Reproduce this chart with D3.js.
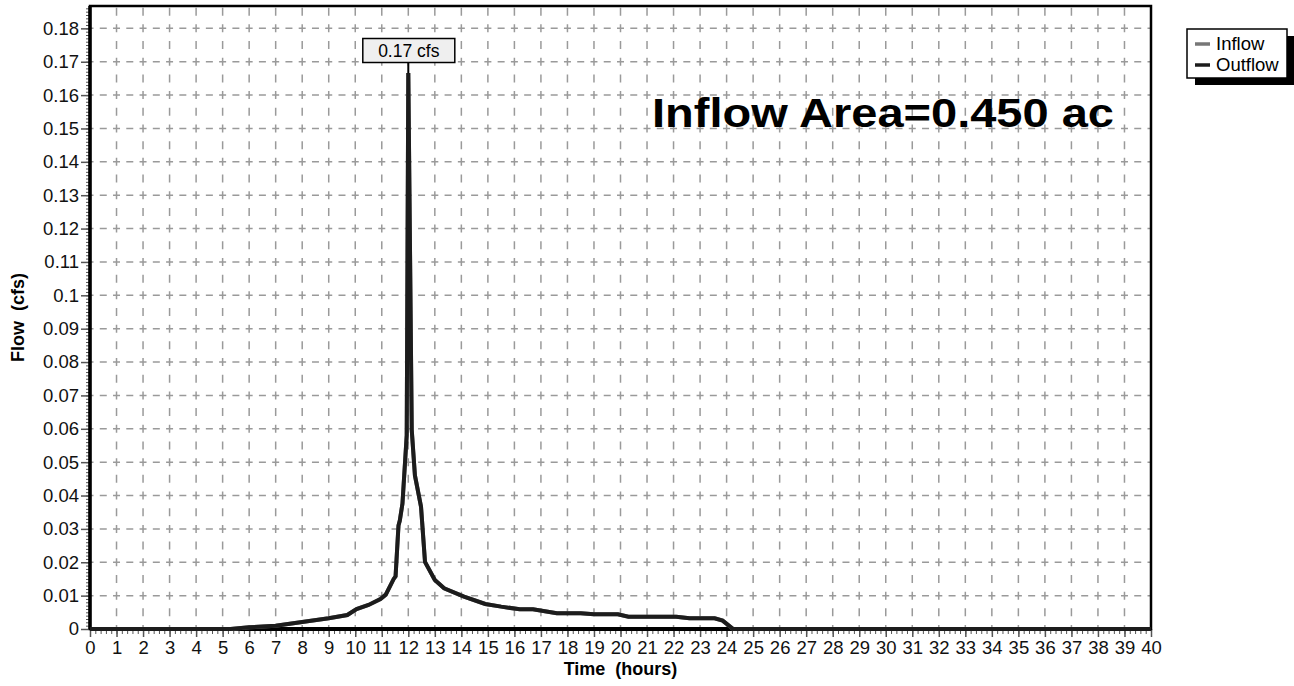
<!DOCTYPE html>
<html>
<head>
<meta charset="utf-8">
<script src="https://cdn.jsdelivr.net/npm/d3@7"></script>
<style>
body { margin: 0; background: #fff; }
svg { display: block; font-family: "Liberation Sans", Arial, Helvetica, sans-serif; }
</style>
</head>
<body>
<div id="chart"></div>
<script>
// hydrograph (hours, cfs)
var hours = [0, 5.0, 5.3, 6.0, 7.0, 8.0, 9.0, 9.7, 10.05, 10.5, 10.95, 11.15, 11.45, 11.52, 11.63, 11.68, 11.78, 11.94, 12.0, 12.13, 12.25, 12.48, 12.63, 13.0, 13.35, 14.1, 14.9, 15.5, 16.2, 16.7, 17.6, 18.5, 19.0, 19.9, 20.3, 22.1, 22.6, 23.55, 23.85, 24.25, 40];
var outflowCfs = [0, 0, 0, 0.0005, 0.001, 0.0021, 0.0032, 0.0042, 0.006, 0.0072, 0.009, 0.0103, 0.0150, 0.0158, 0.031, 0.0325, 0.0376, 0.058, 0.1666, 0.0596, 0.046, 0.0366, 0.0201, 0.0147, 0.0122, 0.0097, 0.0075, 0.0067, 0.0059, 0.0059, 0.0047, 0.0047, 0.0044, 0.0044, 0.0037, 0.0037, 0.0032, 0.0032, 0.0025, 0, 0];
// inflow plots right under the outflow line (same values)
var inflowCfs = outflowCfs;

var yTicks = [0, 0.01, 0.02, 0.03, 0.04, 0.05, 0.06, 0.07, 0.08, 0.09, 0.1, 0.11, 0.12, 0.13, 0.14, 0.15, 0.16, 0.17, 0.18];
var yTickLabels = ["0", "0.01", "0.02", "0.03", "0.04", "0.05", "0.06", "0.07", "0.08", "0.09", "0.1", "0.11", "0.12", "0.13", "0.14", "0.15", "0.16", "0.17", "0.18"];
var xTicks = d3.range(0, 41);

var peakHour = 12.0;
var peakLabel = "0.17 cfs";
var areaLabel = "Inflow Area=0.450 ac";
var legendNames = ["Inflow", "Outflow"];

var svgWidth = 1294, svgHeight = 686;
var margin = { top: 6, right: 143, bottom: 57, left: 90 };
var width = svgWidth - margin.left - margin.right;
var height = svgHeight - margin.top - margin.bottom;

var svg = d3.select("#chart").append("svg")
    .attr("width", svgWidth)
    .attr("height", svgHeight);

var g = svg.append("g")
    .attr("transform", `translate(${margin.left}, ${margin.top})`);

var x = d3.scaleLinear().domain([0, 40]).range([0, width]);
var y = d3.scaleLinear().domain([0, 0.1867]).range([height, 0]);

// dashed grid
var hx = (x(1) - x(0)) / 2;
var hy = (y(0) - y(0.01)) / 2;
g.append("g").selectAll("line")
    .data(yTicks.slice(1))
    .enter().append("line")
    .attr("x1", 0).attr("x2", width)
    .attr("y1", d => y(d)).attr("y2", d => y(d))
    .attr("stroke", "#9a9a9a").attr("stroke-width", 1.5)
    .attr("stroke-dasharray", `7 ${hx - 7}`)
    .attr("stroke-dashoffset", 3.5);
g.append("g").selectAll("line")
    .data(xTicks.slice(1, -1))
    .enter().append("line")
    .attr("x1", d => x(d)).attr("x2", d => x(d))
    .attr("y1", height).attr("y2", 0)
    .attr("stroke", "#9a9a9a").attr("stroke-width", 1.5)
    .attr("stroke-dasharray", `8 ${hy - 8}`)
    .attr("stroke-dashoffset", 4);

// minor ticks
g.append("g")
    .call(d3.axisLeft(y).tickValues(d3.range(0, 0.1865, 0.001)).tickSize(4).tickFormat(""))
    .call(a => a.select(".domain").remove())
    .call(a => a.selectAll("line").attr("stroke", "#555"));
g.append("g")
    .attr("transform", `translate(0, ${height})`)
    .call(d3.axisBottom(x).tickValues(d3.range(0, 40.01, 0.2)).tickSize(5).tickFormat(""))
    .call(a => a.select(".domain").remove())
    .call(a => a.selectAll("line").attr("stroke", "#555"));

// major axes
var yAxis = g.append("g")
    .call(d3.axisLeft(y).tickValues(yTicks).tickSize(9).tickPadding(2)
        .tickFormat((d, i) => yTickLabels[i]));
yAxis.select(".domain").remove();
yAxis.selectAll("line").attr("stroke", "#555").attr("stroke-width", 1.5);
yAxis.selectAll("text").attr("font-size", 18.5).attr("fill", "#111")
    .attr("font-family", "'Liberation Sans', Arial, sans-serif");

var xAxis = g.append("g")
    .attr("transform", `translate(0, ${height})`)
    .call(d3.axisBottom(x).tickValues(xTicks).tickSize(8).tickPadding(4));
xAxis.select(".domain").remove();
xAxis.selectAll("line").attr("stroke", "#555").attr("stroke-width", 1.5);
xAxis.selectAll("text").attr("font-size", 18.5).attr("fill", "#111")
    .attr("font-family", "'Liberation Sans', Arial, sans-serif");

// frame
g.append("rect")
    .attr("x", 0).attr("y", 0).attr("width", width).attr("height", height)
    .attr("fill", "none").attr("stroke", "#000").attr("stroke-width", 2.5);
g.append("line").attr("x1", 0).attr("x2", 0).attr("y1", 0).attr("y2", height)
    .attr("stroke", "#000").attr("stroke-width", 3.5);
g.append("line").attr("x1", 0).attr("x2", width).attr("y1", height).attr("y2", height)
    .attr("stroke", "#000").attr("stroke-width", 4);

// hydrograph lines
var line = d3.line().x(d => x(d[0])).y(d => y(d[1]));
g.append("path")
    .datum(hours.map((h, i) => [h, inflowCfs[i]]))
    .attr("d", line)
    .attr("fill", "none").attr("stroke", "#777").attr("stroke-width", 4);
g.append("path")
    .datum(hours.map((h, i) => [h, outflowCfs[i]]))
    .attr("d", line)
    .attr("fill", "none").attr("stroke", "#1c1c1c").attr("stroke-width", 4);

// peak label
var peakVal = d3.max(outflowCfs);
var px = x(peakHour);
g.append("line")
    .attr("x1", px).attr("x2", px)
    .attr("y1", 56).attr("y2", y(peakVal))
    .attr("stroke", "#000").attr("stroke-width", 2);
g.append("rect")
    .attr("x", px - 45.5).attr("y", 32.5).attr("width", 92).attr("height", 24)
    .attr("fill", "#efefef").attr("stroke", "#000").attr("stroke-width", 1.5);
g.append("text")
    .attr("x", px + 0.5).attr("y", 51)
    .attr("text-anchor", "middle")
    .attr("font-size", 17.5)
    .text(peakLabel);

// area title
g.append("text")
    .attr("x", 562).attr("y", 127 - margin.top)
    .attr("font-size", 41).attr("font-weight", "bold")
    .attr("textLength", 462).attr("lengthAdjust", "spacingAndGlyphs")
    .text(areaLabel);

// axis titles
svg.append("text")
    .attr("x", margin.left + x(20)).attr("y", 675)
    .attr("text-anchor", "middle")
    .attr("font-size", 18).attr("font-weight", "bold")
    .style("white-space", "pre")
    .text("Time  (hours)");
svg.append("text")
    .attr("transform", `translate(24, ${margin.top + height / 2}) rotate(-90)`)
    .attr("text-anchor", "middle")
    .attr("font-size", 18).attr("font-weight", "bold")
    .style("white-space", "pre")
    .text("Flow  (cfs)");

// legend
var lg = svg.append("g").attr("transform", "translate(1187, 29)");
lg.append("rect").attr("x", 8).attr("y", 7).attr("width", 100).attr("height", 49).attr("fill", "#000");
lg.append("rect").attr("x", 0).attr("y", 0).attr("width", 100).attr("height", 49)
    .attr("fill", "#fff").attr("stroke", "#000").attr("stroke-width", 1.5);
var legendColors = ["#777", "#1c1c1c"];
legendNames.forEach(function(name, i) {
    lg.append("line")
        .attr("x1", 8).attr("x2", 23)
        .attr("y1", 15 + i * 21).attr("y2", 15 + i * 21)
        .attr("stroke", legendColors[i]).attr("stroke-width", 3.5);
    lg.append("text")
        .attr("x", 29).attr("y", 21 + i * 21)
        .attr("font-size", 18.5)
        .text(name);
});
</script>
</body>
</html>
